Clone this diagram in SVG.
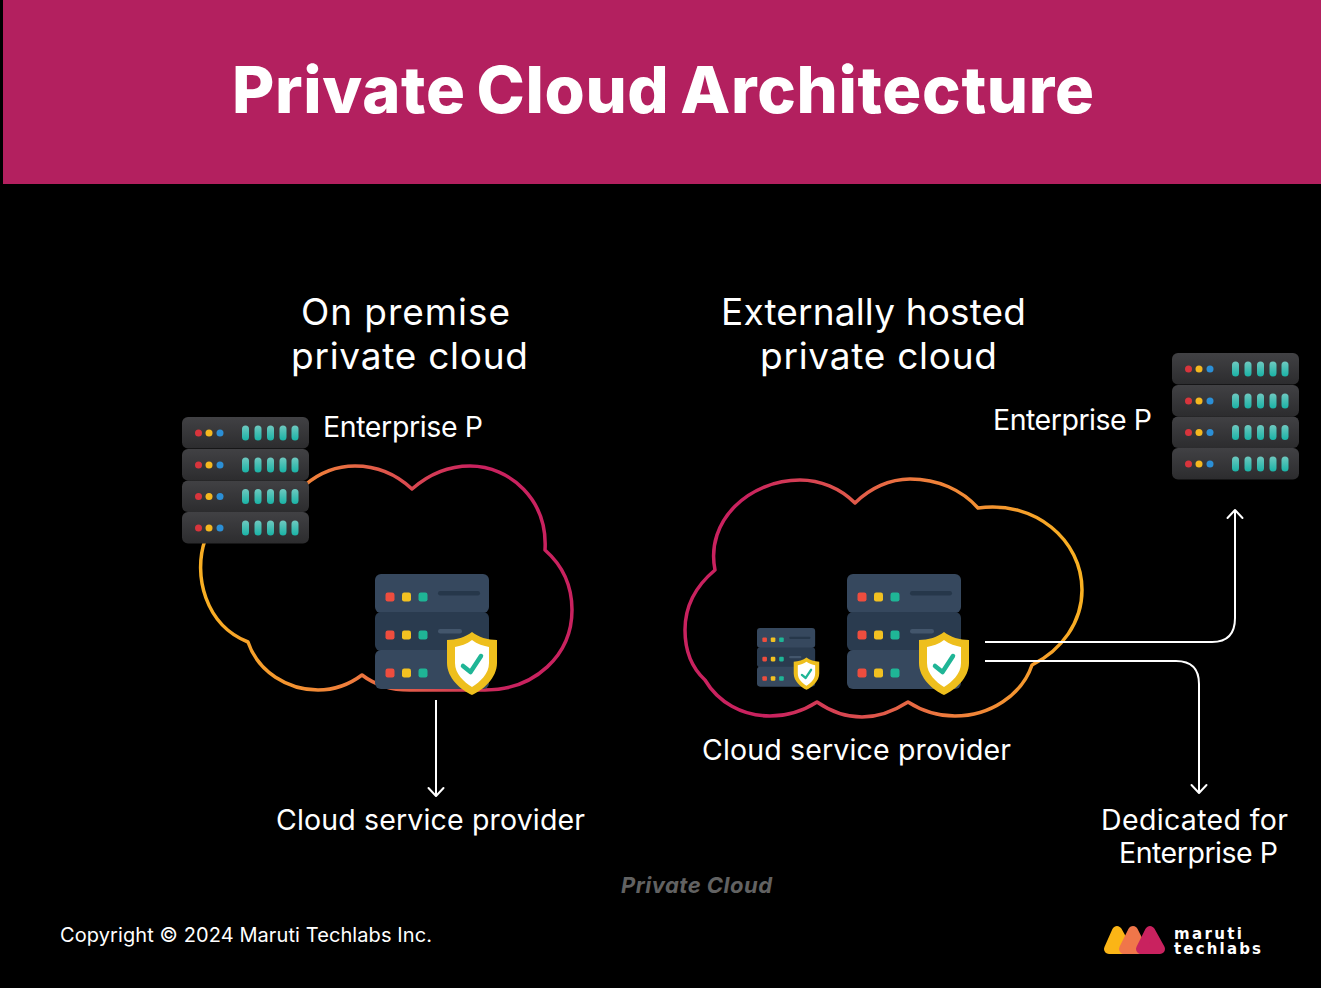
<svg xmlns="http://www.w3.org/2000/svg" xmlns:xlink="http://www.w3.org/1999/xlink" width="1321" height="988" viewBox="0 0 1321 988">
  <style>
    text { font-family: "Inter", "Liberation Sans", sans-serif; fill: #ffffff; }
    .heading { font-size: 37px; font-weight: 400; }
    .label { font-size: 28.5px; font-weight: 400; }
    .brand { font-family: "DejaVu Sans", sans-serif; font-size: 15px; font-weight: 700; }
    .wire { fill: none; stroke: #ffffff; stroke-width: 2; marker-end: url(#chevron); }
    .cloud { fill: none; stroke-width: 3.5; stroke-linejoin: round; }
    .pill { fill: url(#pillFill); }
  </style>
  <defs>
    <linearGradient id="unitFill" x1="0" y1="0" x2="0" y2="1">
      <stop offset="0" stop-color="#414144"/>
      <stop offset="1" stop-color="#2c2c2e"/>
    </linearGradient>
    <linearGradient id="pillFill" x1="0" y1="0" x2="0" y2="1">
      <stop offset="0" stop-color="#6fc9c0"/>
      <stop offset="1" stop-color="#19b3a6"/>
    </linearGradient>
    <linearGradient id="cloudLeft" gradientUnits="userSpaceOnUse" x1="200" y1="610" x2="540" y2="560">
      <stop offset="0" stop-color="#f9b122"/>
      <stop offset="0.4" stop-color="#ef7d3c"/>
      <stop offset="0.85" stop-color="#c9225f"/>
    </linearGradient>
    <linearGradient id="cloudRight" gradientUnits="userSpaceOnUse" x1="760" y1="620" x2="1082" y2="580">
      <stop offset="0" stop-color="#c9225f"/>
      <stop offset="0.55" stop-color="#ef7d3c"/>
      <stop offset="1" stop-color="#f9b122"/>
    </linearGradient>
    <marker id="chevron" viewBox="-10 -10 20 20" markerUnits="userSpaceOnUse" markerWidth="20" markerHeight="20" orient="auto" refX="0" refY="0">
      <path d="M-8 -7.5 L0 0 L-8 7.5" fill="none" stroke="#ffffff" stroke-width="2" stroke-linecap="round" stroke-linejoin="round"/>
    </marker>

    <!-- one slot of the dark rack -->
    <g id="unit">
      <rect x="0" y="0" width="127" height="31.5" rx="6" fill="url(#unitFill)"/>
      <circle cx="16.5" cy="16" r="3.5" fill="#d8343c"/>
      <circle cx="27" cy="16" r="3.5" fill="#f5b81f"/>
      <circle cx="38" cy="16" r="3.5" fill="#2b8fd6"/>
      <rect class="pill" x="60" y="8.5" width="7" height="15" rx="3.5"/>
      <rect class="pill" x="72.5" y="8.5" width="7" height="15" rx="3.5"/>
      <rect class="pill" x="85" y="8.5" width="7" height="15" rx="3.5"/>
      <rect class="pill" x="97.5" y="8.5" width="7" height="15" rx="3.5"/>
      <rect class="pill" x="109.5" y="8.5" width="7" height="15" rx="3.5"/>
    </g>
    <g id="darkRack">
      <use href="#unit" y="95"/>
      <use href="#unit" y="63.5"/>
      <use href="#unit" y="32"/>
      <use href="#unit" y="0"/>
    </g>

    <!-- slate server stack with its shield badge, origin at top left of the stack -->
    <g id="secureStack">
      <rect x="0" y="0" width="114" height="39" rx="6" fill="#36485e"/>
      <rect x="0" y="38" width="114" height="39" rx="6" fill="#2a3b4f"/>
      <rect x="0" y="76" width="114" height="39" rx="6" fill="#36485e"/>
      <rect x="63" y="17" width="42" height="4.5" rx="2.2" fill="#26374a"/>
      <rect x="63" y="55" width="24" height="4.5" rx="2.2" fill="#43566c"/>
      <g id="lamps">
        <rect x="10.5" y="18.5" width="9" height="9" rx="2.2" fill="#ee4d3e"/>
        <rect x="27" y="18.5" width="9" height="9" rx="2.2" fill="#f2c121"/>
        <rect x="43.5" y="18.5" width="9" height="9" rx="2.2" fill="#1fb596"/>
        <rect x="10.5" y="56.5" width="9" height="9" rx="2.2" fill="#ee4d3e"/>
        <rect x="27" y="56.5" width="9" height="9" rx="2.2" fill="#f2c121"/>
        <rect x="43.5" y="56.5" width="9" height="9" rx="2.2" fill="#1fb596"/>
        <rect x="10.5" y="94.5" width="9" height="9" rx="2.2" fill="#ee4d3e"/>
        <rect x="27" y="94.5" width="9" height="9" rx="2.2" fill="#f2c121"/>
        <rect x="43.5" y="94.5" width="9" height="9" rx="2.2" fill="#1fb596"/>
      </g>
      <path d="M97 58 C103 63 113 66 122 66 L122 89 C122 104 108 116 97 121 C86 116 72 104 72 89 L72 66 C81 66 91 63 97 58 Z" fill="#eebf1d"/>
      <path d="M97 66 C102 70 109 72 114 73 L114 89 C114 100 105 108 97 113 C89 108 80 100 80 89 L80 73 C85 72 92 70 97 66 Z" fill="#ffffff"/>
      <path d="M88 92 L95.5 98 L106 82" fill="none" stroke="#1fb596" stroke-width="4.5" stroke-linecap="round" stroke-linejoin="round"/>
    </g>
  </defs>

  <rect id="page" width="1321" height="988" fill="#000000"/>

  <g id="banner">
    <rect x="3" y="0" width="1318" height="184" fill="#b3205f"/>
    <text x="232" y="112.5" font-size="65" font-weight="800" word-spacing="-4" textLength="862" lengthAdjust="spacing">Private Cloud Architecture</text>
  </g>

  <g id="on-premise">
    <text class="heading" x="301" y="325" textLength="209" lengthAdjust="spacing">On premise</text>
    <text class="heading" x="291" y="369" textLength="237" lengthAdjust="spacing">private cloud</text>
    <path id="cloud-onprem" class="cloud" stroke="url(#cloudLeft)" d="M205 540 C193 575 205 625 248 642 C258 672 288 690 318 690 C335 690 350 684 362 675 C375 685 392 690 410 690 L485 690 C535 690 572 655 572 610 C572 585 562 565 545 550 C548 500 510 466 470 466 C448 466 428 475 412 489 C396 474 376 466 355 466 C335 466 318 474 305 485"/>
  </g>

  <g id="enterprise-rack-left">
    <use href="#darkRack" x="182" y="417"/>
    <text class="label" x="323" y="436.5" textLength="160" lengthAdjust="spacing">Enterprise P</text>
  </g>

  <g id="provider-stack-left">
    <use href="#secureStack" x="375" y="574"/>
    <text class="label" x="276" y="829.5" textLength="309" lengthAdjust="spacing">Cloud service provider</text>
  </g>

  <g id="externally-hosted">
    <text class="heading" x="721" y="325" textLength="305" lengthAdjust="spacing">Externally hosted</text>
    <text class="heading" x="760" y="369" textLength="237" lengthAdjust="spacing">private cloud</text>
    <path id="cloud-hosted" class="cloud" stroke="url(#cloudRight)" d="M715 570 C705 520 750 480 800 480 C820 480 840 488 855 503 C870 488 890 479 910 479 C938 479 962 490 978 508 C1035 500 1082 540 1082 590 C1082 622 1062 650 1032 665 C1022 695 990 716 955 716 C938 716 922 711 908 702 C894 711 878 717 862 717 C846 717 830 711 817 702 C803 711 787 716 770 716 C742 716 718 702 705 680 C692 668 685 650 685 630 C685 605 697 585 715 570 Z"/>
  </g>

  <g id="provider-stack-right">
    <use href="#secureStack" x="847" y="574"/>
    <text class="label" x="702" y="759.5" textLength="309" lengthAdjust="spacing">Cloud service provider</text>
  </g>

  <g id="dedicated-stack">
    <use href="#secureStack" transform="translate(757 628) scale(0.51)"/>
  </g>

  <g id="enterprise-rack-right">
    <use href="#darkRack" x="1172" y="353"/>
    <text class="label" x="993" y="429.5" textLength="159" lengthAdjust="spacing">Enterprise P</text>
  </g>

  <g id="dedicated-label">
    <text class="label" x="1101" y="829.5" textLength="187" lengthAdjust="spacing">Dedicated for</text>
    <text class="label" x="1119" y="862.5" textLength="159" lengthAdjust="spacing">Enterprise P</text>
  </g>

  <g id="connectors">
    <path class="wire" d="M436 700 V796"/>
    <path class="wire" d="M985 642 H1212 Q1235 642 1235 618 V510"/>
    <path class="wire" d="M985 661 H1176 Q1199 661 1199 684 V793"/>
  </g>

  <g id="footer">
    <text x="621" y="893" font-size="22" font-weight="700" font-style="italic" style="fill:#626262" textLength="151" lengthAdjust="spacing">Private Cloud</text>
    <text x="60" y="942" font-size="20" textLength="372" lengthAdjust="spacing">Copyright © 2024 Maruti Techlabs Inc.</text>
  </g>

  <g id="logo">
    <path d="M1117 931 L1109 949 L1127 949 Z" fill="#fbb516" stroke="#fbb516" stroke-width="10" stroke-linejoin="round"/>
    <path d="M1133 931 L1124 949 L1142 949 Z" fill="#f0764a" stroke="#f0764a" stroke-width="10" stroke-linejoin="round"/>
    <path d="M1150 931 L1141 949 L1160 949 Z" fill="#c9225f" stroke="#c9225f" stroke-width="10" stroke-linejoin="round"/>
    <text class="brand" x="1174" y="938.5" textLength="68" lengthAdjust="spacing">maruti</text>
    <text class="brand" x="1174" y="954" textLength="87" lengthAdjust="spacing">techlabs</text>
  </g>
</svg>
